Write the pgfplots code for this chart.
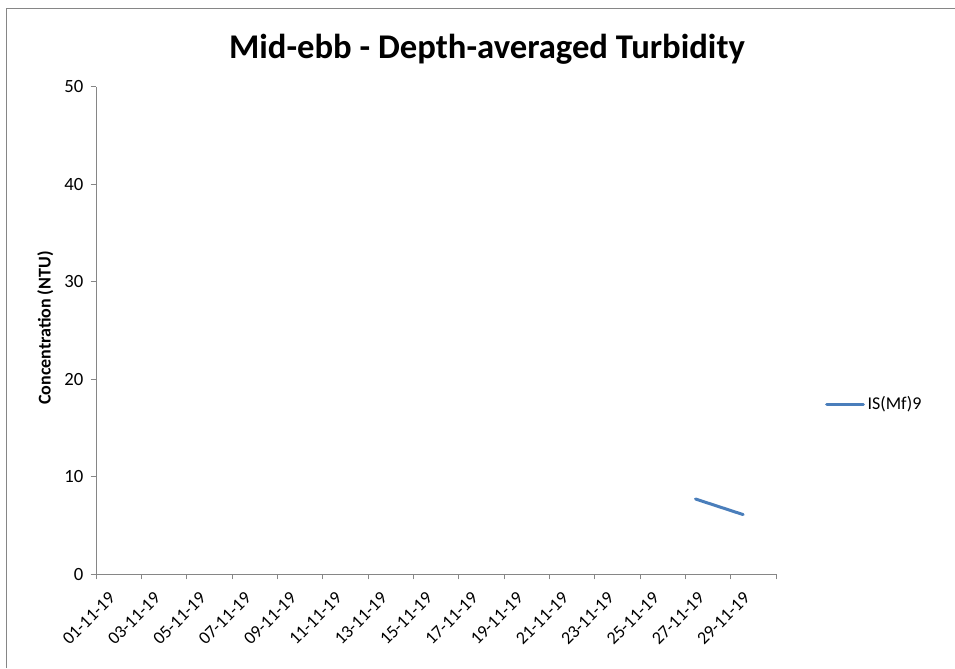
\documentclass[border=0pt]{standalone}
\usepackage{pgfplots}
\pgfplotsset{compat=1.18}
\usepackage{fontspec}
\setmainfont{Carlito}
\definecolor{exblue}{HTML}{4A7EBB}
\definecolor{axgray}{HTML}{868686}
\begin{document}
\begin{tikzpicture}
  % picture frame, 1 px = 0.75pt
  \path[use as bounding box] (-72pt,-70.5pt) rectangle (644.25pt,430.5pt);
  \draw[axgray,line width=0.75pt] (-66.75pt,-70.5pt) -- (-66.75pt,423.75pt) -- (644.25pt,423.75pt);
  \begin{axis}[
      at={(0pt,0pt)}, anchor=origin,
      scale only axis,
      width=510pt, height=365.25pt,
      xmin=1, xmax=31, ymin=0, ymax=50,
      axis lines=left,
      axis line style={-, axgray, line width=0.75pt},
      tick style={axgray, line width=0.75pt},
      major tick length=4pt,
      tick align=outside,
      xtick={1,3,...,31},
      xticklabels={01-11-19,03-11-19,05-11-19,07-11-19,09-11-19,11-11-19,13-11-19,15-11-19,17-11-19,19-11-19,21-11-19,23-11-19,25-11-19,27-11-19,29-11-19,},
      xticklabel style={rotate=45, anchor=north east, font=\fontsize{13.5}{15}\selectfont, xshift=3.5pt, yshift=-9pt},
      ytick={0,10,...,50},
      yticklabel style={font=\fontsize{14}{16}\selectfont, xshift=-2pt},
      /pgf/number format/assume math mode=true,
      title={Mid-ebb - Depth-averaged Turbidity},
      title style={at={(0.575,1)}, anchor=center, yshift=22.5pt, font=\fontsize{26}{30}\selectfont\bfseries},
      ylabel={Concentration (NTU)},
      ylabel style={at={(rel axis cs:0,0.505)}, anchor=center, yshift=38pt, font=\fontsize{13.5}{15}\selectfont\bfseries},
      legend style={at={(1.072,0.349)}, anchor=west, draw=none, fill=none,
        font=\fontsize{13.5}{15}\selectfont, inner xsep=0pt,
        /tikz/every even column/.append style={column sep=0pt}},
      legend cell align=left,
      legend image code/.code={\draw[#1] (0pt,0pt) -- (27.5pt,0pt);},
      clip=false,
    ]
    \addplot[exblue, line width=2.25pt, line cap=round] coordinates {(27.45,7.7) (29.55,6.1)};
    \addlegendentry{IS(Mf)9}
  \end{axis}
\end{tikzpicture}
\end{document}
